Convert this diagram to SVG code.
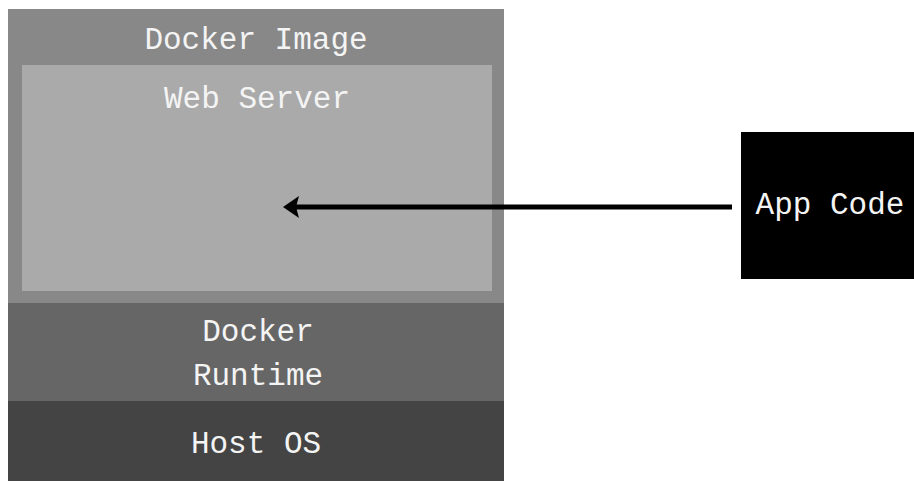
<svg xmlns="http://www.w3.org/2000/svg" width="914" height="481" viewBox="0 0 914 481">
  <defs>
    <style>
      .lbl { font-family: "Liberation Mono", "Courier New", monospace; font-size: 31px; fill: #f4f4f4; text-anchor: middle; }
    </style>
    <marker id="arrow" markerUnits="userSpaceOnUse" markerWidth="18" markerHeight="24" refX="4" refY="12" orient="auto" viewBox="0 0 18 24">
      <path d="M17,12 L1,1 L4,12 L1,23 Z" fill="#000"/>
    </marker>
  </defs>
  <rect width="914" height="481" fill="#fff"/>
  <g id="docker-image">
    <rect x="8" y="9" width="496" height="294" fill="#888888"/>
    <text class="lbl" x="256" y="49">Docker Image</text>
  </g>
  <g id="web-server">
    <rect x="22" y="65" width="470" height="226" fill="#aaaaaa"/>
    <text class="lbl" x="257" y="108">Web Server</text>
  </g>
  <g id="docker-runtime">
    <rect x="8" y="303" width="496" height="98" fill="#666666"/>
    <text class="lbl" x="258" y="341">Docker</text>
    <text class="lbl" x="258" y="385">Runtime</text>
  </g>
  <g id="host-os">
    <rect x="8" y="401" width="496" height="80" fill="#444444"/>
    <text class="lbl" x="256" y="453">Host OS</text>
  </g>
  <g id="app-code">
    <rect x="741" y="132" width="173" height="147" fill="#000000"/>
    <text class="lbl" x="830" y="214">App Code</text>
  </g>
  <g id="connectors">
    <line x1="732" y1="207" x2="296" y2="207" stroke="#000" stroke-width="5" marker-end="url(#arrow)"/>
  </g>
</svg>
